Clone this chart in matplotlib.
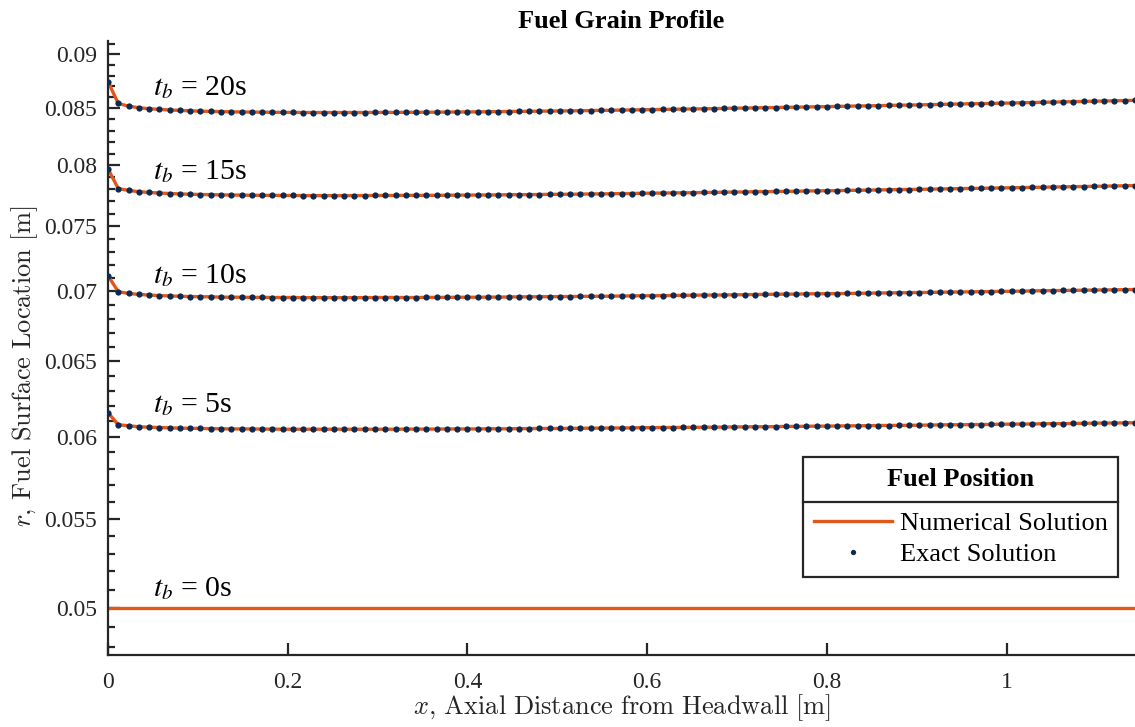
import numpy as np
import matplotlib.pyplot as plt
from matplotlib.lines import Line2D
from matplotlib.ticker import FixedLocator, FuncFormatter, NullFormatter

plt.rcParams['font.family'] = ['Liberation Serif', 'DejaVu Serif']
plt.rcParams['mathtext.fontset'] = 'stix'

# axial grid of the exact solution [m]
grain_length = 1.143
n_nodes = 101
x = np.linspace(0, grain_length, n_nodes)

# initial port radius [m]
r_init = 0.05

# fuel surface radius at each burn time [m]
r_5s = [0.06154, 0.06076, 0.06069, 0.06063, 0.06060, 0.06058, 0.06056, 0.06054, 0.06053, 0.06052,
        0.06051, 0.06050, 0.06049, 0.06049, 0.06049, 0.06048, 0.06048, 0.06047, 0.06047, 0.06047,
        0.06047, 0.06047, 0.06047, 0.06047, 0.06047, 0.06047, 0.06047, 0.06047, 0.06047, 0.06048,
        0.06048, 0.06048, 0.06048, 0.06049, 0.06049, 0.06049, 0.06049, 0.06050, 0.06050, 0.06050,
        0.06051, 0.06051, 0.06052, 0.06052, 0.06052, 0.06053, 0.06053, 0.06054, 0.06054, 0.06055,
        0.06055, 0.06056, 0.06057, 0.06057, 0.06058, 0.06058, 0.06059, 0.06059, 0.06060, 0.06060,
        0.06061, 0.06062, 0.06062, 0.06063, 0.06063, 0.06064, 0.06065, 0.06065, 0.06066, 0.06067,
        0.06067, 0.06068, 0.06069, 0.06069, 0.06070, 0.06071, 0.06071, 0.06072, 0.06072, 0.06073,
        0.06074, 0.06075, 0.06076, 0.06076, 0.06077, 0.06077, 0.06078, 0.06079, 0.06080, 0.06080,
        0.06081, 0.06082, 0.06083, 0.06083, 0.06084, 0.06085, 0.06086, 0.06087, 0.06087, 0.06088,
        0.06089]
r_10s = [0.07117, 0.06997, 0.06984, 0.06977, 0.06972, 0.06968, 0.06966, 0.06963, 0.06961, 0.06960,
         0.06959, 0.06957, 0.06956, 0.06956, 0.06955, 0.06955, 0.06954, 0.06954, 0.06954, 0.06953,
         0.06953, 0.06953, 0.06953, 0.06953, 0.06953, 0.06953, 0.06954, 0.06954, 0.06954, 0.06954,
         0.06954, 0.06955, 0.06955, 0.06955, 0.06956, 0.06956, 0.06956, 0.06957, 0.06957, 0.06958,
         0.06959, 0.06959, 0.06960, 0.06960, 0.06961, 0.06961, 0.06962, 0.06963, 0.06963, 0.06964,
         0.06965, 0.06966, 0.06967, 0.06967, 0.06968, 0.06969, 0.06970, 0.06971, 0.06972, 0.06972,
         0.06973, 0.06974, 0.06975, 0.06976, 0.06977, 0.06978, 0.06979, 0.06979, 0.06981, 0.06982,
         0.06982, 0.06983, 0.06984, 0.06985, 0.06986, 0.06987, 0.06988, 0.06989, 0.06990, 0.06991,
         0.06992, 0.06993, 0.06994, 0.06995, 0.06996, 0.06997, 0.06998, 0.06999, 0.07000, 0.07001,
         0.07003, 0.07004, 0.07005, 0.07006, 0.07007, 0.07008, 0.07009, 0.07010, 0.07011, 0.07012,
         0.07013]
r_15s = [0.07971, 0.07806, 0.07791, 0.07780, 0.07774, 0.07769, 0.07765, 0.07762, 0.07759, 0.07757,
         0.07756, 0.07754, 0.07753, 0.07752, 0.07751, 0.07750, 0.07750, 0.07749, 0.07749, 0.07748,
         0.07748, 0.07748, 0.07748, 0.07748, 0.07748, 0.07748, 0.07749, 0.07749, 0.07749, 0.07750,
         0.07750, 0.07750, 0.07750, 0.07751, 0.07752, 0.07752, 0.07753, 0.07753, 0.07754, 0.07755,
         0.07756, 0.07756, 0.07757, 0.07758, 0.07759, 0.07759, 0.07760, 0.07762, 0.07762, 0.07763,
         0.07765, 0.07765, 0.07767, 0.07768, 0.07769, 0.07770, 0.07771, 0.07772, 0.07774, 0.07774,
         0.07776, 0.07777, 0.07778, 0.07780, 0.07780, 0.07782, 0.07783, 0.07784, 0.07786, 0.07787,
         0.07788, 0.07789, 0.07791, 0.07792, 0.07793, 0.07795, 0.07796, 0.07798, 0.07798, 0.07800,
         0.07801, 0.07803, 0.07804, 0.07806, 0.07807, 0.07808, 0.07810, 0.07811, 0.07813, 0.07814,
         0.07816, 0.07817, 0.07819, 0.07820, 0.07822, 0.07823, 0.07825, 0.07826, 0.07828, 0.07829,
         0.07831]
r_20s = [0.08743, 0.08544, 0.08519, 0.08505, 0.08496, 0.08490, 0.08485, 0.08481, 0.08477, 0.08474,
         0.08472, 0.08470, 0.08468, 0.08467, 0.08466, 0.08465, 0.08464, 0.08463, 0.08463, 0.08462,
         0.08462, 0.08462, 0.08462, 0.08462, 0.08462, 0.08462, 0.08463, 0.08463, 0.08463, 0.08464,
         0.08464, 0.08465, 0.08465, 0.08466, 0.08467, 0.08467, 0.08468, 0.08469, 0.08470, 0.08471,
         0.08472, 0.08473, 0.08474, 0.08475, 0.08476, 0.08477, 0.08478, 0.08480, 0.08481, 0.08482,
         0.08484, 0.08485, 0.08487, 0.08488, 0.08490, 0.08491, 0.08493, 0.08494, 0.08496, 0.08497,
         0.08499, 0.08501, 0.08502, 0.08504, 0.08505, 0.08507, 0.08509, 0.08510, 0.08512, 0.08514,
         0.08515, 0.08517, 0.08519, 0.08521, 0.08522, 0.08524, 0.08526, 0.08528, 0.08529, 0.08531,
         0.08533, 0.08535, 0.08537, 0.08539, 0.08541, 0.08542, 0.08544, 0.08546, 0.08548, 0.08550,
         0.08552, 0.08554, 0.08556, 0.08558, 0.08560, 0.08562, 0.08564, 0.08566, 0.08568, 0.08570,
         0.08572]

burn_profiles = [r_5s, r_10s, r_15s, r_20s]
burn_labels = ['0s', '5s', '10s', '15s', '20s']
label_x = 0.05
label_r = [0.05067, 0.06160, 0.07064, 0.07881, 0.08620]

y_major = [0.05, 0.055, 0.06, 0.065, 0.07, 0.075, 0.08, 0.085, 0.09]
y_minor = [0.048 + 0.001 * k for k in range(44)]
x_major = [0, 0.2, 0.4, 0.6, 0.8, 1.0]

line_color = '#E2581A'
dot_color = '#0B2A52'
axis_color = '#262626'

fig = plt.figure(figsize=(11.35, 7.27), dpi=100)
ax = fig.add_axes([108 / 1135, 1 - 655 / 727, 1 - 108 / 1135, (655 - 41) / 727])

# numerical solution (solid) and exact solution (dots)
num_line, = ax.plot(x, np.full(n_nodes, r_init), color=line_color, lw=2.4, zorder=2)
for r in burn_profiles:
    ax.plot(x, r, color=line_color, lw=2.4, zorder=2)
    exact_dots, = ax.plot(x, r, linestyle='none', marker='o', ms=4.5,
                          color=dot_color, markeredgewidth=0, zorder=3)

for txt, ry in zip(burn_labels, label_r):
    ax.text(label_x, ry, r'$t_b$ = ' + txt, fontsize=21.5, va='baseline', ha='left',
            color='black')

ax.set_yscale('log')
ax.set_xlim(0, grain_length)
ax.set_ylim(0.04759, 0.09129)

ax.yaxis.set_major_locator(FixedLocator(y_major))
ax.yaxis.set_minor_locator(FixedLocator([v for v in y_minor
                                         if min(abs(v - m) for m in y_major) > 1e-6]))
ax.yaxis.set_major_formatter(FuncFormatter(lambda v, p: f'{v:g}'))
ax.yaxis.set_minor_formatter(NullFormatter())
ax.xaxis.set_major_locator(FixedLocator(x_major))
ax.xaxis.set_major_formatter(FuncFormatter(lambda v, p: f'{v:g}'))

for side in ['top', 'right']:
    ax.spines[side].set_visible(False)
for side in ['left', 'bottom']:
    ax.spines[side].set_color(axis_color)
    ax.spines[side].set_linewidth(1.6)

ax.tick_params(axis='both', which='major', direction='in', length=8.5, width=1.6,
               color=axis_color, labelcolor=axis_color, labelsize=17)
ax.tick_params(axis='y', which='minor', direction='in', length=5, width=1.6, color=axis_color)
ax.tick_params(axis='x', which='major', pad=12)
ax.tick_params(axis='y', which='major', pad=8)

ax.set_xlabel(r'$x,\!\ \mathrm{Axial\ Distance\ from\ Headwall\ [m]}$', fontsize=19,
              math_fontfamily='cm', color=axis_color, labelpad=0)
ax.set_ylabel(r'$r,\!\ \mathrm{Fuel\ Surface\ Location\ [m]}$', fontsize=19,
              math_fontfamily='cm', color=axis_color)
ax.yaxis.set_label_coords(-0.066, 0.47)
ax.set_title('Fuel Grain Profile', fontsize=19, fontweight='bold', pad=9)

exact_dots_legend = Line2D([], [], linestyle='none', marker='o', ms=3.8,
                           color=dot_color, markeredgewidth=0)
leg = ax.legend([num_line, exact_dots_legend], ['Numerical Solution', 'Exact Solution'],
                title='Fuel Position', title_fontproperties={'weight': 'bold', 'size': 19},
                fontsize=19, loc='upper right', bbox_to_anchor=(1118 / 1135, 1 - 457 / 727),
                bbox_transform=fig.transFigure, borderaxespad=0, fancybox=False,
                framealpha=1, edgecolor=axis_color, handlelength=2.95, handletextpad=0.3,
                borderpad=0.4, labelspacing=0.3)
leg.get_frame().set_linewidth(1.6)
# wider gap below the legend title, room for the divider
leg._legend_box.sep = 15

# divider between the legend title and its entries
fig.canvas.draw()
renderer = fig.canvas.get_renderer()
box = leg.get_window_extent(renderer)
tbox = leg.get_title().get_window_extent(renderer)
ebox = leg.get_texts()[0].get_window_extent(renderer)
y_div = 0.5 * (tbox.y0 + ebox.y1)
fig.add_artist(Line2D([box.x0 / fig.bbox.width, box.x1 / fig.bbox.width],
                      [y_div / fig.bbox.height, y_div / fig.bbox.height],
                      transform=fig.transFigure, color=axis_color, lw=1.6))

fig.savefig('out.png', dpi=100)
